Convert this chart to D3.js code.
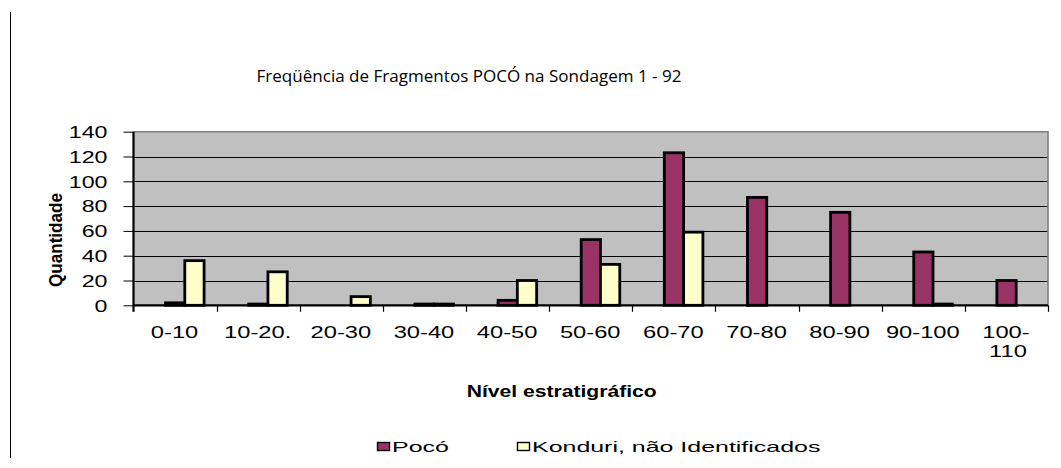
<!DOCTYPE html>
<html>
<head>
<meta charset="utf-8">
<script src="https://cdn.jsdelivr.net/npm/d3@7/dist/d3.min.js"></script>
<style>
  html, body { margin: 0; padding: 0; background: #fff; }
  svg { display: block; }
  text { font-family: "Liberation Sans", Arial, sans-serif; fill: #000; }
</style>
</head>
<body>
<svg id="chart" width="1061" height="468"></svg>
<script>
// Stratigraphic levels (cm) and fragment counts per level
const categories = ["0-10", "10-20.", "20-30", "30-40", "40-50", "50-60", "60-70", "70-80", "80-90", "90-100", "100-110"];
const categoryLabels = [["0-10"], ["10-20."], ["20-30"], ["30-40"], ["40-50"], ["50-60"], ["60-70"], ["70-80"], ["80-90"], ["90-100"], ["100-", "110"]];
const seriesNames = ["Pocó", "Konduri, não Identificados"];
const pocoValues    = [2, 1, 0, 1, 4, 53, 123, 87, 75, 43, 20];
const konduriValues = [36, 27, 7, 1, 20, 33, 59, 0, 0, 1, 0];
const yTicks = [0, 20, 40, 60, 80, 100, 120, 140];
const seriesColors = ["#993366", "#FFFFCC"];

const svg = d3.select("#chart");

const plot = { left: 133.5, right: 1048, top: 131.7, bottom: 305.3 };

const x = d3.scaleBand().domain(categories).range([plot.left, plot.right]).padding(0);
const y = d3.scaleLinear().domain([0, 140]).range([plot.bottom, plot.top]);
const bw = x.bandwidth();
// two bars side by side inside each category
const xs = d3.scaleBand().domain(seriesNames).range([bw * 0.385, bw * 0.385 + 2 * bw * 0.232]).padding(0);

// widen a text element horizontally (old wide bitmap-style lettering)
function widen(sel, factor) {
  sel.each(function () {
    const len = this.getComputedTextLength();
    d3.select(this).attr("textLength", len * factor).attr("lengthAdjust", "spacingAndGlyphs");
  });
}

// outer frame line on the left
svg.append("line").attr("x1", 10.5).attr("x2", 10.5).attr("y1", 12).attr("y2", 458)
  .attr("stroke", "#000").attr("stroke-width", 1);

// title
svg.append("text")
  .attr("x", 469).attr("y", 81.5)
  .attr("text-anchor", "middle")
  .attr("textLength", 425).attr("lengthAdjust", "spacingAndGlyphs")
  .style("font-family", "'Open Sans', 'Noto Sans', sans-serif")
  .style("font-size", "16.8px")
  .text("Freqüência de Fragmentos POCÓ na Sondagem 1 - 92");

// plot area background
svg.append("rect")
  .attr("x", plot.left).attr("y", plot.top)
  .attr("width", plot.right - plot.left).attr("height", plot.bottom - plot.top)
  .attr("fill", "#C0C0C0");

// horizontal gridlines
svg.append("g").selectAll("line")
  .data(yTicks.filter(d => d > 0 && d < 140))
  .join("line")
  .attr("x1", plot.left).attr("x2", plot.right)
  .attr("y1", d => Math.round(y(d)) + 0.5).attr("y2", d => Math.round(y(d)) + 0.5)
  .attr("stroke", "#000").attr("stroke-width", 1);

// grey top and right border of the plot area
svg.append("path")
  .attr("d", `M${plot.left},${plot.top} H${plot.right} V${plot.bottom}`)
  .attr("fill", "none").attr("stroke", "#808080").attr("stroke-width", 1.6);

// bars
const rows = categories.map((c, i) => ({ cat: c, values: [pocoValues[i], konduriValues[i]] }));
const groups = svg.append("g").selectAll("g")
  .data(rows).join("g")
  .attr("transform", d => `translate(${x(d.cat)},0)`);
groups.selectAll("rect")
  .data(d => d.values.map((v, k) => ({ name: seriesNames[k], v, k })).filter(e => e.v > 0))
  .join("rect")
  .attr("x", e => xs(e.name))
  .attr("y", e => y(e.v))
  .attr("width", xs.bandwidth())
  .attr("height", e => y(0) - y(e.v))
  .attr("fill", e => seriesColors[e.k])
  .attr("stroke", "#000").attr("stroke-width", 2.8);

// y axis
const yAxis = svg.append("g")
  .attr("transform", `translate(${plot.left},0)`)
  .call(d3.axisLeft(y).tickValues(yTicks).tickSize(10).tickPadding(16));
yAxis.select(".domain").remove();
yAxis.selectAll(".tick line").attr("stroke", "#000").attr("stroke-width", 1);
yAxis.selectAll(".tick text")
  .style("font-family", "'Liberation Sans', Arial, sans-serif")
  .style("font-size", "16px")
  .attr("dy", "0.36em")
  .call(widen, 1.45);
svg.append("line")
  .attr("x1", plot.left).attr("x2", plot.left)
  .attr("y1", plot.top).attr("y2", plot.bottom + 6.5)
  .attr("stroke", "#000").attr("stroke-width", 2.2);

// x axis: baseline, boundary ticks and category labels
svg.append("line")
  .attr("x1", plot.left).attr("x2", plot.right)
  .attr("y1", plot.bottom).attr("y2", plot.bottom)
  .attr("stroke", "#000").attr("stroke-width", 2.2);
const bounds = categories.map(c => x(c)).concat([plot.right]);
svg.append("g").selectAll("line")
  .data(bounds.slice(1))
  .join("line")
  .attr("x1", d => Math.round(d) + 0.5).attr("x2", d => Math.round(d) + 0.5)
  .attr("y1", plot.bottom).attr("y2", plot.bottom + 6.5)
  .attr("stroke", "#000").attr("stroke-width", 1.2);

const xLabels = svg.append("g");
categories.forEach((c, i) => {
  categoryLabels[i].forEach((line, j) => {
    xLabels.append("text")
      .attr("text-anchor", "middle")
      .attr("x", x(c) + bw / 2 + (j ? 1.5 : -0.5))
      .attr("y", 338.3 + j * 18.7)
      .style("font-size", "16px")
      .text(line)
      .call(widen, 1.48);
  });
});

// axis titles
svg.append("text")
  .attr("transform", "translate(62,240) rotate(-90)")
  .attr("text-anchor", "middle")
  .attr("textLength", 94).attr("lengthAdjust", "spacingAndGlyphs")
  .style("font-size", "18px").style("font-weight", "bold")
  .text("Quantidade");

svg.append("text")
  .attr("x", 561.7).attr("y", 396.7)
  .attr("text-anchor", "middle")
  .attr("textLength", 190).attr("lengthAdjust", "spacingAndGlyphs")
  .style("font-size", "16px").style("font-weight", "bold")
  .text("Nível estratigráfico");

// legend
const legendX = [377, 517];
const legend = svg.append("g").selectAll("g")
  .data(seriesNames).join("g")
  .attr("transform", (d, i) => `translate(${legendX[i]},0)`);
legend.append("rect")
  .attr("x", 0.5).attr("y", 442.5).attr("width", 12).attr("height", 8)
  .attr("fill", (d, i) => seriesColors[i])
  .attr("stroke", "#000").attr("stroke-width", 1.4);
legend.append("text")
  .attr("x", 15).attr("y", 451.5)
  .style("font-size", "14.5px")
  .text(d => d)
  .call(widen, 1.72);
</script>
</body>
</html>
